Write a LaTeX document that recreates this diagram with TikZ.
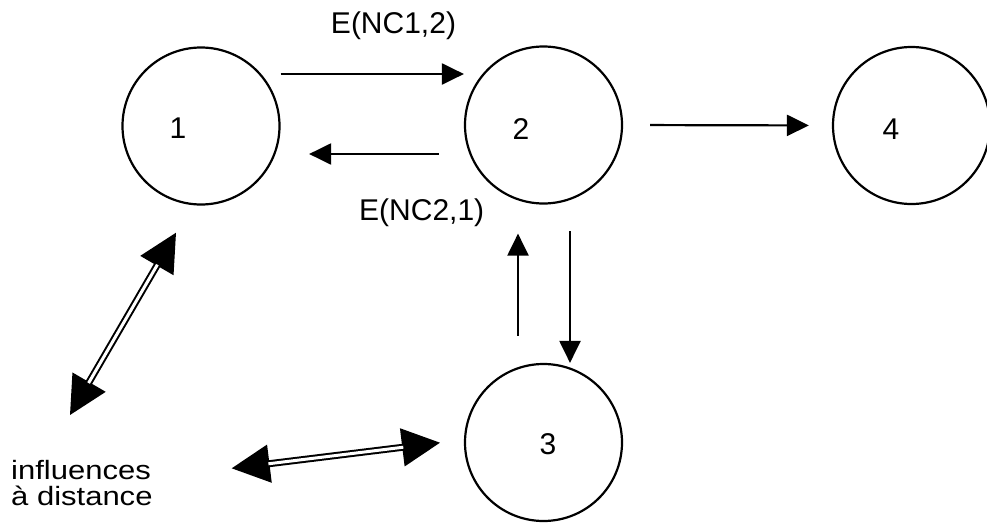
\documentclass[tikz,border=0pt]{standalone}
\usepackage{fontspec}
\setmainfont{Liberation Sans}
\newfontfamily\notefont[FakeStretch=1.17]{Liberation Sans}
\usetikzlibrary{arrows.meta}
\begin{document}
\begin{tikzpicture}[x=1pt,y=-1pt,
  state/.style={circle,draw,line width=2.2pt,minimum size=157pt,inner sep=0pt},
  lbl/.style={font=\fontsize{30}{35}\selectfont,inner sep=0pt},
  link/.style={line width=2.2pt,-{Triangle[length=22pt,width=21pt]}},
  bigtips/.style={line width=2pt,{Triangle[length=38pt,width=38pt]}-{Triangle[length=38pt,width=38pt]}},
  twin/.style={line width=2pt,double,double distance=3pt,shorten <=37pt,shorten >=37pt}]
\useasboundingbox (0,0) rectangle (987,522);
\clip (0,0) rectangle (987,522);

% states
\node[state] (n1) at (201,126) {};
\node[state] (n2) at (543.5,125) {};
\node[state] (n4) at (911.5,125.5) {};
\node[state] (n3) at (543.5,442.5) {};

% state numbers
\node[lbl] (t1) at (178,128) {1};
\node[lbl] (t2) at (521,129) {2};
\node[lbl] (t4) at (891,129) {4};
\node[lbl] (t3) at (548,444) {3};

% edge labels
\node[lbl,anchor=base] (e12) at (393.5,33.3) {E(NC1,2)};
\node[lbl,anchor=base] (e21) at (421.7,220) {E(NC2,1)};

% remote influence note (base anchor sits on the last line)
\node[lbl,anchor=base west,align=left,font=\notefont\fontsize{26.5}{26.7}\selectfont] (infl) at (11,505.7) {influences\\à distance};

% directed links between states
\draw[link] ([yshift=52pt]n1.east) -- ([yshift=51pt]n2.west);
\draw[link,shorten <=25pt,shorten >=28.5pt] ([yshift=-29pt]n2.west) -- ([yshift=-28pt]n1.east);
\draw[link,shorten <=27pt,shorten >=23pt] (n2.east) -- (n4.west);
\draw[link,shorten <=27pt,shorten >=29pt] ([xshift=-25.5pt]n3.north) -- ([xshift=-25.5pt]n2.south);
\draw[link,shorten <=26.5pt] ([xshift=26.5pt]n2.south) -- ([xshift=26.5pt]n3.north);

% two-way remote influences
\coordinate (p1) at (176,232.7);
\coordinate (q1) at (70,415);
\coordinate (p2) at (440,442.7);
\coordinate (q2) at (231.7,468.3);
\draw[bigtips] (p1) -- (q1);
\draw[twin] (p1) -- (q1);
\draw[bigtips] (p2) -- (q2);
\draw[twin] (p2) -- (q2);
\end{tikzpicture}
\end{document}
